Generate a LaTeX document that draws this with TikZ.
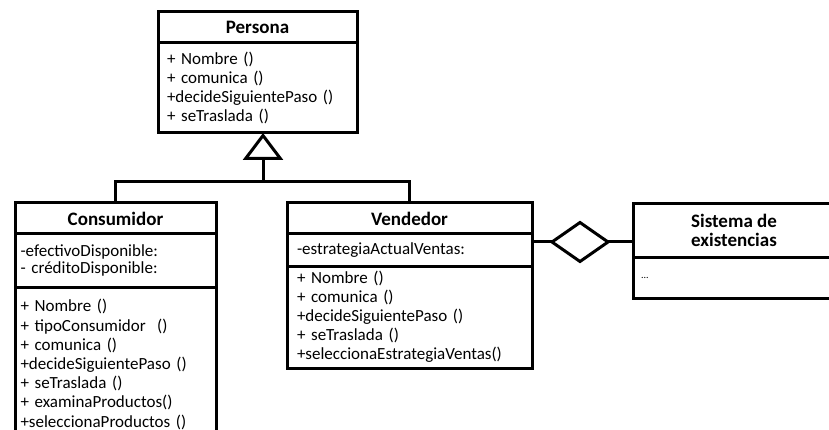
\documentclass[tikz,border=0pt]{standalone}
\usepackage{fontspec}
\setmainfont{Carlito}
\usetikzlibrary{shapes.geometric,arrows.meta,positioning}
\begin{document}
\begin{tikzpicture}[x=1pt,y=-1pt,line join=miter,
  box/.style={draw,line width=3pt,outer sep=0pt,inner ysep=0pt,anchor=north west,font=\fontsize{17}{19}\selectfont},
  hdr/.style={box,align=center,font=\fontsize{19}{19}\selectfont\bfseries},
  body/.style={box,align=left},
  conn/.style={draw,line width=3pt}]
  \useasboundingbox (0,0) rectangle (829,430);
  \clip (0,0) rectangle (829,430);
  % Persona
  \node[hdr,minimum width=199pt,minimum height=31pt] (perhdr) at (158,12) {Persona};
  \node[body,text width=181pt,inner xsep=9pt,minimum height=90pt] (perops) at (perhdr.south west) {+ Nombre ()\\+ comunica ()\\+decideSiguientePaso ()\\+ seTraslada ()};
  % Consumidor
  \node[hdr,minimum width=201pt,minimum height=31pt] (conhdr) at (15,203) {Consumidor};
  \node[body,text width=190pt,inner xsep=5.5pt,minimum height=53pt,font=\fontsize{17}{17.5}\selectfont] (conatr) at (conhdr.south west) {-efectivoDisponible:\\- créditoDisponible:};
  \node[body,text width=190pt,inner xsep=5.5pt,minimum height=155pt,font=\fontsize{17}{19.2}\selectfont] (conops) at (conatr.south west) {+ Nombre ()\\+ tipoConsumidor~ ()\\+ comunica ()\\+decideSiguientePaso ()\\+ seTraslada ()\\+ examinaProductos()\\+seleccionaProductos ()};
  % Vendedor
  \node[hdr,minimum width=245pt,minimum height=31pt] (venhdr) at (287,203) {Vendedor};
  \node[body,text width=225pt,inner xsep=10pt,minimum height=32pt] (venatr) at (venhdr.south west) {-estrategiaActualVentas:};
  \node[body,text width=225pt,inner xsep=10pt,minimum height=102pt] (venops) at (venatr.south west) {+ Nombre ()\\+ comunica ()\\+decideSiguientePaso ()\\+ seTraslada ()\\+seleccionaEstrategiaVentas()};
  % Sistema de existencias
  \node[hdr,minimum width=202pt,minimum height=53pt] (sishdr) at (633,204) {Sistema de\\existencias};
  \node[body,text width=188pt,inner xsep=8pt,minimum height=41pt,font=\fontsize{10}{11}\selectfont] (sisatr) at (sishdr.south west) {...};
  % herencia
  \coordinate (junc) at (263,182);
  \draw[conn] (conhdr.north) |- (junc) -| (venhdr.north);
  \draw[conn,-{Triangle[open,length=27pt,width=40pt]}] (junc) -- (junc |- perops.south);
  % agregacion
  \node[draw,diamond,line width=3pt,outer sep=0pt,inner sep=0pt,minimum width=56pt,minimum height=39pt] (agg) at (580,242) {};
  \draw[conn] (agg.west) -- (agg.west -| venhdr.east);
  \draw[conn] (agg.east) -- (agg.east -| sishdr.west);
\end{tikzpicture}
\end{document}
